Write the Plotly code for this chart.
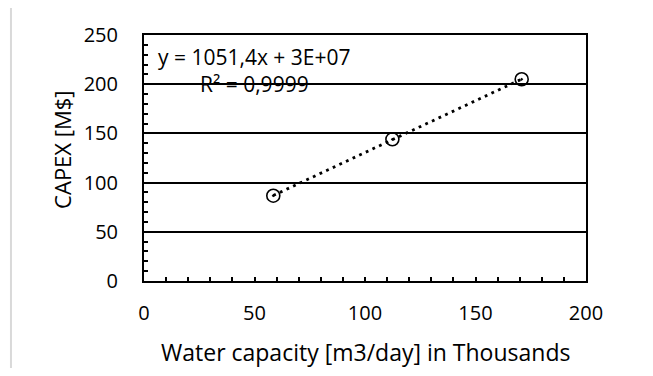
import numpy as np
import plotly.graph_objects as go

# Data (x in thousands of m3/day, y in M$)
capacity = [58.5, 112.4, 170.9]
capex = [86.7, 144.0, 205.0]
equation_text = "y = 1051,4x + 3E+07"
r2_text = "R² = 0,9999"
x_title = "Water capacity [m3/day] in Thousands"
y_title = "CAPEX [M$]"
x_ticks = [0, 50, 100, 150, 200]
y_ticks = [0, 50, 100, 150, 200, 250]

# Linear trendline from the data
slope, intercept = np.polyfit(capacity, capex, 1)
trend_x = [min(capacity), max(capacity)]
trend_y = [slope * v + intercept for v in trend_x]

FONT = "Open Sans"

fig = go.Figure()
fig.add_trace(go.Scatter(
    x=trend_x, y=trend_y, mode="lines",
    line=dict(color="black", width=2.8, dash="2.8px,4.5px"),
    showlegend=False, hoverinfo="skip"))
fig.add_trace(go.Scatter(
    x=capacity, y=capex, mode="markers",
    marker=dict(symbol="circle-open-dot", size=13, color="black",
                line=dict(color="black", width=1.6)),
    showlegend=False))

# page body has an 8px margin: figure is sized/offset to compensate
fig.update_layout(
    width=637, height=360,
    margin=dict(l=136, r=59, t=27, b=87, autoexpand=False),
    paper_bgcolor="white", plot_bgcolor="white",
    font=dict(family=FONT, color="black", size=20),
    showlegend=False,
    shapes=[dict(type="rect", xref="paper", yref="paper",
                 x0=-0.301, x1=1.5, y0=-0.8, y1=1.114,
                 line=dict(color="#d9d9d9", width=2), layer="below")],
    annotations=[
        dict(text=equation_text, xref="paper", yref="paper",
             x=0.249, y=0.911, showarrow=False, xanchor="center", yanchor="middle",
             font=dict(family=FONT, size=21, color="black")),
        dict(text=r2_text, xref="paper", yref="paper",
             x=0.249, y=0.80, showarrow=False, xanchor="center", yanchor="middle",
             font=dict(family=FONT, size=21, color="black")),
        dict(text=y_title, xref="paper", yref="paper",
             x=-0.1855, y=0.533, showarrow=False, xanchor="center", yanchor="middle",
             textangle=-90, font=dict(family=FONT, size=22, color="black")),
        dict(text=x_title, xref="paper", yref="paper",
             x=0.5, y=-0.2886, showarrow=False, xanchor="center", yanchor="middle",
             font=dict(family=FONT, size=23, color="black")),
    ],
)

fig.update_xaxes(
    range=[0, 200], tickvals=x_ticks, ticktext=[str(v) for v in x_ticks],
    showgrid=False, zeroline=False, automargin=False,
    showline=True, linecolor="black", linewidth=2, mirror=True,
    ticks="inside", ticklen=4, tickwidth=1.5, tickcolor="black",
    minor=dict(dtick=10, ticks="inside", ticklen=4, tickwidth=1.5, tickcolor="black", showgrid=False),
    ticklabelstandoff=13,
    tickfont=dict(family=FONT, size=20),
)
fig.update_yaxes(
    range=[0, 250], tickvals=y_ticks, ticktext=[str(v) for v in y_ticks],
    showgrid=True, gridcolor="black", gridwidth=1.5, zeroline=False, automargin=False,
    showline=True, linecolor="black", linewidth=2, mirror=True,
    ticks="inside", ticklen=4, tickwidth=1.5, tickcolor="black",
    minor=dict(dtick=10, ticks="inside", ticklen=4, tickwidth=1.5, tickcolor="black", showgrid=False),
    ticklabelstandoff=20,
    tickfont=dict(family=FONT, size=20),
)

fig.write_html("out.html")
